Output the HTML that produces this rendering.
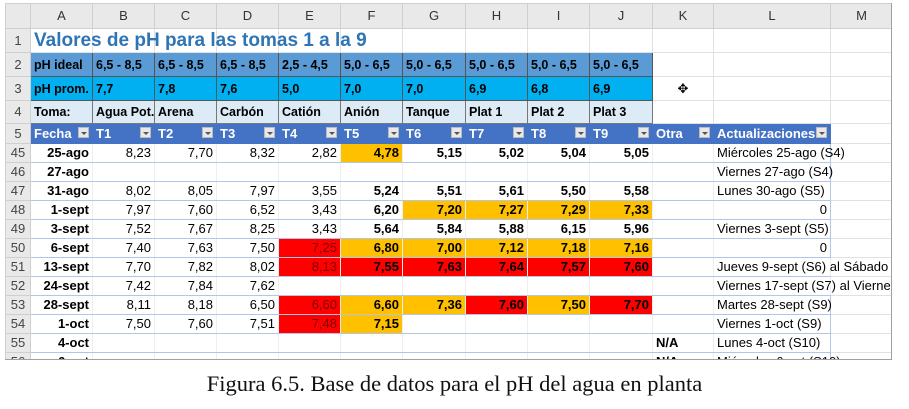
<!DOCTYPE html>
<html><head><meta charset="utf-8"><style>
body{margin:0;width:909px;height:409px;background:#fff;position:relative;overflow:hidden;font-family:"Liberation Sans",sans-serif}
#sh{position:absolute;left:5px;top:3px;width:887px;height:357px;overflow:hidden;border-right:1px solid #a0a0a0;border-bottom:1px solid #a0a0a0;box-sizing:border-box}
table{border-collapse:collapse;table-layout:fixed;width:887px}
td{padding:0 3px;white-space:nowrap;overflow:visible;border:1px solid #e1e1e1;font-size:13px;color:#000;height:18px;line-height:16px}
tr.h td{background:#e9e9e9;text-align:center;font-size:13px;color:#333;border-color:#cfcfcf}
td.rn{background:#e9e9e9;text-align:center;color:#444;font-size:13px;border-color:#cfcfcf;padding:0}
.t{color:#2e75b6;font-weight:bold;font-size:19px}
tr.r2 td.c{background:#5b9bd5;font-weight:bold;border:1px solid #555;font-size:12.5px}
tr.r3 td.c{background:#00b0f0;font-weight:bold;border:1px solid #555;font-size:12.5px}
tr.r4 td.c{background:#ddebf7;font-weight:bold;border:1px solid #777;font-size:12.5px}
tr.r5 td.c{background:#4472c4;color:#fff;font-weight:bold;border-color:#4472c4;position:relative}
.dd{position:absolute;right:3px;top:3px;width:11px;height:11px;background:#e8e8e8;border:1px solid #bbb;box-sizing:border-box}
.dd:after{content:"";position:absolute;left:2px;top:4px;border-left:3px solid transparent;border-right:3px solid transparent;border-top:3px solid #555}
tr.d td.c{border-left-color:#eee;border-right-color:#eee;border-bottom:1px solid #b4c6e7;text-align:right}
tr.d td.a{font-weight:bold}
tr.d td.b{font-weight:bold}
td.o{background:#ffc000!important}
td.x{background:#ff0000!important;color:#7a0000}
td.L{text-align:left!important;border-left:1px solid #333!important;border-right:1px solid #b4c6e7!important}
#cap{position:absolute;left:0;width:909px;top:371px;text-align:center;font-family:"Liberation Serif",serif;font-size:22.5px;color:#111}
</style></head><body>
<div id="sh"><table>
<colgroup><col style="width:25px"><col style="width:62px"><col style="width:62px"><col style="width:62px"><col style="width:62px"><col style="width:62px"><col style="width:62px"><col style="width:63px"><col style="width:62px"><col style="width:62px"><col style="width:63px"><col style="width:61px"><col style="width:117px"><col style="width:62px"></colgroup>
<tr class="h" style="height:25px"><td></td><td>A</td><td>B</td><td>C</td><td>D</td><td>E</td><td>F</td><td>G</td><td>H</td><td>I</td><td>J</td><td>K</td><td>L</td><td>M</td></tr>
<tr style="height:24px"><td class="rn">1</td><td class="t">Valores de pH para las tomas 1 a la 9</td><td></td><td></td><td></td><td></td><td></td><td></td><td></td><td></td><td></td><td></td><td></td><td></td></tr>
<tr class="r2" style="height:24px"><td class="rn">2</td><td class="c">pH ideal</td><td class="c">6,5 - 8,5</td><td class="c">6,5 - 8,5</td><td class="c">6,5 - 8,5</td><td class="c">2,5 - 4,5</td><td class="c">5,0 - 6,5</td><td class="c">5,0 - 6,5</td><td class="c">5,0 - 6,5</td><td class="c">5,0 - 6,5</td><td class="c">5,0 - 6,5</td><td></td><td></td><td></td></tr>
<tr class="r3" style="height:24px"><td class="rn">3</td><td class="c">pH prom.</td><td class="c">7,7</td><td class="c">7,8</td><td class="c">7,6</td><td class="c">5,0</td><td class="c">7,0</td><td class="c">7,0</td><td class="c">6,9</td><td class="c">6,8</td><td class="c">6,9</td><td style="text-align:center;font-size:13px">✥</td><td></td><td></td></tr>
<tr class="r4" style="height:23px"><td class="rn">4</td><td class="c">Toma:</td><td class="c">Agua Pot.</td><td class="c">Arena</td><td class="c">Carbón</td><td class="c">Catión</td><td class="c">Anión</td><td class="c">Tanque</td><td class="c">Plat 1</td><td class="c">Plat 2</td><td class="c">Plat 3</td><td></td><td></td><td></td></tr>
<tr class="r5" style="height:20px"><td class="rn">5</td><td class="c">Fecha<span class="dd"></span></td><td class="c">T1<span class="dd"></span></td><td class="c">T2<span class="dd"></span></td><td class="c">T3<span class="dd"></span></td><td class="c">T4<span class="dd"></span></td><td class="c">T5<span class="dd"></span></td><td class="c">T6<span class="dd"></span></td><td class="c">T7<span class="dd"></span></td><td class="c">T8<span class="dd"></span></td><td class="c">T9<span class="dd"></span></td><td class="c">Otra<span class="dd"></span></td><td class="c">Actualizaciones<span class="dd"></span></td><td></td></tr>
<tr class="d" style="height:19px"><td class="rn">45</td><td class="c a">25-ago</td><td class="c">8,23</td><td class="c">7,70</td><td class="c">8,32</td><td class="c">2,82</td><td class="c b o">4,78</td><td class="c b">5,15</td><td class="c b">5,02</td><td class="c b">5,04</td><td class="c b">5,05</td><td class="c"></td><td class="c L">Miércoles 25-ago (S4)</td><td></td></tr>
<tr class="d" style="height:19px"><td class="rn">46</td><td class="c a">27-ago</td><td class="c"></td><td class="c"></td><td class="c"></td><td class="c"></td><td class="c"></td><td class="c"></td><td class="c"></td><td class="c"></td><td class="c"></td><td class="c"></td><td class="c L">Viernes 27-ago (S4)</td><td></td></tr>
<tr class="d" style="height:19px"><td class="rn">47</td><td class="c a">31-ago</td><td class="c">8,02</td><td class="c">8,05</td><td class="c">7,97</td><td class="c">3,55</td><td class="c b">5,24</td><td class="c b">5,51</td><td class="c b">5,61</td><td class="c b">5,50</td><td class="c b">5,58</td><td class="c"></td><td class="c L">Lunes 30-ago (S5)</td><td></td></tr>
<tr class="d" style="height:19px"><td class="rn">48</td><td class="c a">1-sept</td><td class="c">7,97</td><td class="c">7,60</td><td class="c">6,52</td><td class="c">3,43</td><td class="c b">6,20</td><td class="c b o">7,20</td><td class="c b o">7,27</td><td class="c b o">7,29</td><td class="c b o">7,33</td><td class="c"></td><td class="c" style="border-left:1px solid #333;border-right:1px solid #b4c6e7">0</td><td></td></tr>
<tr class="d" style="height:19px"><td class="rn">49</td><td class="c a">3-sept</td><td class="c">7,52</td><td class="c">7,67</td><td class="c">8,25</td><td class="c">3,43</td><td class="c b">5,64</td><td class="c b">5,84</td><td class="c b">5,88</td><td class="c b">6,15</td><td class="c b">5,96</td><td class="c"></td><td class="c L" style="border-left-color:#b4c6e7!important">Viernes 3-sept (S5)</td><td></td></tr>
<tr class="d" style="height:19px"><td class="rn">50</td><td class="c a">6-sept</td><td class="c">7,40</td><td class="c">7,63</td><td class="c">7,50</td><td class="c x">7,25</td><td class="c b o">6,80</td><td class="c b o">7,00</td><td class="c b o">7,12</td><td class="c b o">7,18</td><td class="c b o">7,16</td><td class="c"></td><td class="c" style="border-right:1px solid #b4c6e7">0</td><td></td></tr>
<tr class="d" style="height:19px"><td class="rn">51</td><td class="c a">13-sept</td><td class="c">7,70</td><td class="c">7,82</td><td class="c">8,02</td><td class="c x">8,13</td><td class="c b x" style="color:#000">7,55</td><td class="c b x" style="color:#000">7,63</td><td class="c b x" style="color:#000">7,64</td><td class="c b x" style="color:#000">7,57</td><td class="c b x" style="color:#000">7,60</td><td class="c"></td><td class="c" style="text-align:left">Jueves 9-sept (S6) al Sábado 11</td><td></td></tr>
<tr class="d" style="height:19px"><td class="rn">52</td><td class="c a">24-sept</td><td class="c">7,42</td><td class="c">7,84</td><td class="c">7,62</td><td class="c"></td><td class="c"></td><td class="c"></td><td class="c"></td><td class="c"></td><td class="c"></td><td class="c"></td><td class="c" style="text-align:left">Viernes 17-sept (S7) al Viernes</td><td></td></tr>
<tr class="d" style="height:19px"><td class="rn">53</td><td class="c a">28-sept</td><td class="c">8,11</td><td class="c">8,18</td><td class="c">6,50</td><td class="c x">6,60</td><td class="c b o">6,60</td><td class="c b o">7,36</td><td class="c b x" style="color:#000">7,60</td><td class="c b o">7,50</td><td class="c b x" style="color:#000">7,70</td><td class="c"></td><td class="c L" style="border-left-color:#b4c6e7!important">Martes 28-sept (S9)</td><td></td></tr>
<tr class="d" style="height:19px"><td class="rn">54</td><td class="c a">1-oct</td><td class="c">7,50</td><td class="c">7,60</td><td class="c">7,51</td><td class="c x">7,48</td><td class="c b o">7,15</td><td class="c"></td><td class="c"></td><td class="c"></td><td class="c"></td><td class="c"></td><td class="c L" style="border-left-color:#b4c6e7!important">Viernes 1-oct (S9)</td><td></td></tr>
<tr class="d" style="height:19px"><td class="rn">55</td><td class="c a">4-oct</td><td class="c"></td><td class="c"></td><td class="c"></td><td class="c"></td><td class="c"></td><td class="c"></td><td class="c"></td><td class="c"></td><td class="c"></td><td class="c b" style="text-align:left">N/A</td><td class="c L" style="border-left-color:#b4c6e7!important">Lunes 4-oct (S10)</td><td></td></tr>
<tr class="d" style="height:19px"><td class="rn">56</td><td class="c a">6-oct</td><td class="c"></td><td class="c"></td><td class="c"></td><td class="c"></td><td class="c"></td><td class="c"></td><td class="c"></td><td class="c"></td><td class="c"></td><td class="c b" style="text-align:left">N/A</td><td class="c L" style="border-left-color:#b4c6e7!important">Miércoles 6-oct (S10)</td><td></td></tr>
</table></div>
<div id="cap">Figura 6.5. Base de datos para el pH del agua en planta</div>
</body></html>
